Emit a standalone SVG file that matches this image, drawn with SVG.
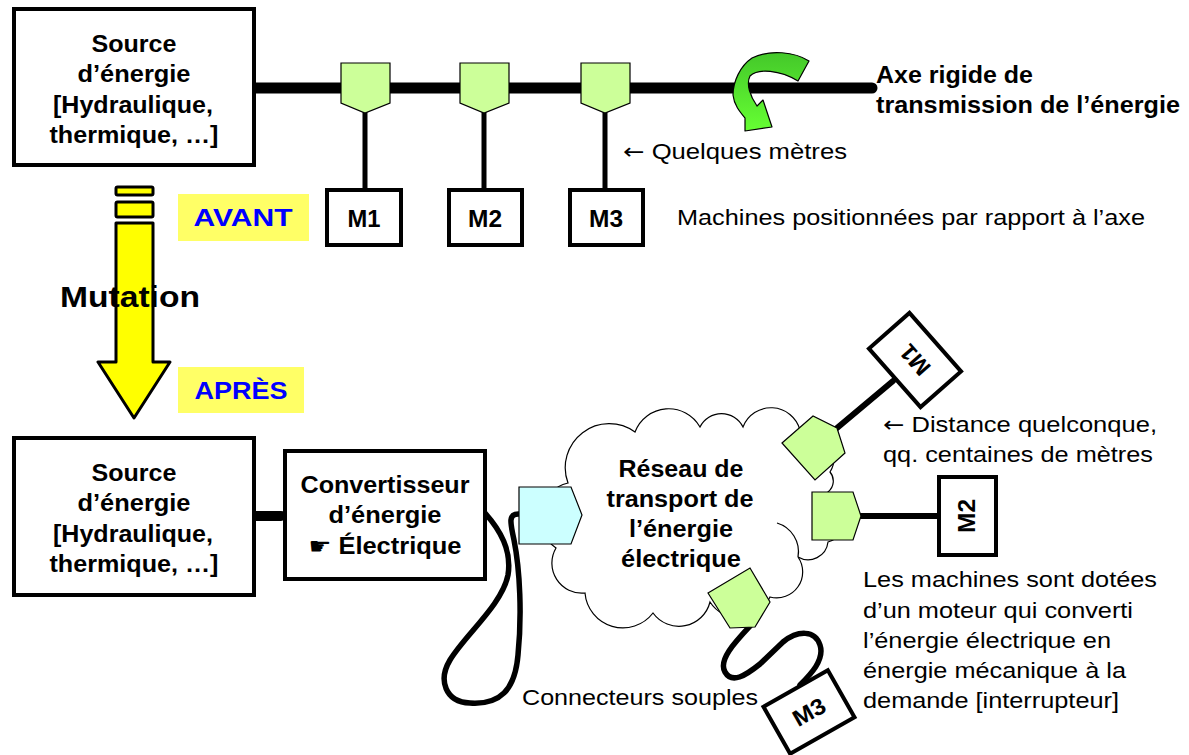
<svg xmlns="http://www.w3.org/2000/svg" width="1189" height="755" viewBox="0 0 1189 755">
<defs>
<linearGradient id="gArrow" x1="0" y1="0" x2="0" y2="1">
<stop offset="0" stop-color="#44c82a"/>
<stop offset="1" stop-color="#66ff33"/>
</linearGradient>
<style>
text{font-family:"Liberation Sans",Arial,"DejaVu Sans",sans-serif;fill:#000}
.b{font-weight:bold;font-size:23px}
.n{font-size:22px}
.c{text-anchor:middle}
.ar{font-family:"DejaVu Sans",sans-serif}
.box{fill:#fff;stroke:#000;stroke-width:4}
.pg{fill:#ccff99;stroke:#000;stroke-width:1.2}
.wire{fill:none;stroke:#000;stroke-linecap:round;stroke-linejoin:round}
.lab{fill:#ffff66}
.blue{font-weight:bold;font-size:24px;fill:#0000ff;text-anchor:middle}
</style>
</defs>
<rect width="1189" height="755" fill="#fff"/>

<g id="connectors">
<line class="wire" x1="250" y1="88" x2="872" y2="88" stroke-width="11"/>
<line class="wire" x1="365" y1="113" x2="365" y2="190" stroke-width="5"/>
<line class="wire" x1="484" y1="113" x2="484" y2="190" stroke-width="5"/>
<line class="wire" x1="605" y1="113" x2="605" y2="190" stroke-width="5"/>
<line class="wire" x1="254" y1="516" x2="281" y2="516" stroke-width="10"/>
<path class="wire" stroke-width="5.5" d="M485,513 C500,530 512,550 508,575 C502,605 465,635 450,660 C438,680 445,702 470,703 C500,705 515,690 518,655 C522,615 520,570 514,540 C510,522 508,513 520,514"/>
<line class="wire" x1="837" y1="428" x2="893" y2="381" stroke-width="6"/>
<line class="wire" x1="858" y1="516" x2="940" y2="516" stroke-width="6"/>
<path class="wire" stroke-width="5.5" d="M750,626 C735,642 718,660 725,672 C732,684 745,676 760,664 L783,642 C798,630 815,630 820,645 C825,660 810,675 800,685"/>
</g>

<g id="rotation-arrow">
<path d="M809,61 C795,52 770,49 752,58 C740,66 733,82 733,95 C734,105 740,112 745,118 L745,131 L772,127 L763,100 L757,106 C750,96 746,84 750,76 C758,68 780,70 798,81 Z" fill="url(#gArrow)" stroke="#000" stroke-width="1.2" stroke-linejoin="round"/>
</g>

<g id="source-top">
<rect class="box" x="14" y="9" width="240" height="156"/>
<text class="b c" x="134" y="52" textLength="85" lengthAdjust="spacingAndGlyphs">Source</text>
<text class="b c" x="134" y="82" textLength="113" lengthAdjust="spacingAndGlyphs">d’énergie</text>
<text class="b c" x="133" y="113" textLength="160" lengthAdjust="spacingAndGlyphs">[Hydraulique,</text>
<text class="b c" x="134" y="143" textLength="169" lengthAdjust="spacingAndGlyphs">thermique, …]</text>
</g>

<g id="coupling-1"><polygon class="pg" points="341,63 390,63 390,103 365,113 341,103"/></g>
<g id="coupling-2"><polygon class="pg" points="460,63 509,63 509,103 484,113 460,103"/></g>
<g id="coupling-3"><polygon class="pg" points="581,63 630,63 630,103 605,113 581,103"/></g>

<g id="m1-top">
<rect class="box" x="327" y="190" width="74" height="55"/>
<text class="b c" x="364" y="227" textLength="33" lengthAdjust="spacingAndGlyphs">M1</text>
</g>
<g id="m2-top">
<rect class="box" x="449" y="190" width="73" height="55"/>
<text class="b c" x="485" y="227" textLength="34" lengthAdjust="spacingAndGlyphs">M2</text>
</g>
<g id="m3-top">
<rect class="box" x="570" y="190" width="73" height="55"/>
<text class="b c" x="606" y="227" textLength="34" lengthAdjust="spacingAndGlyphs">M3</text>
</g>

<g id="axis-label">
<text class="b" x="876" y="83" textLength="157" lengthAdjust="spacingAndGlyphs">Axe rigide de</text>
<text class="b" x="876" y="113" textLength="304" lengthAdjust="spacingAndGlyphs">transmission de l’énergie</text>
</g>
<g id="notes-top">
<text class="n" x="623" y="159" textLength="224" lengthAdjust="spacingAndGlyphs"><tspan class="ar">←</tspan> Quelques mètres</text>
<text class="n" x="677" y="225" textLength="468" lengthAdjust="spacingAndGlyphs">Machines positionnées par rapport à l’axe</text>
</g>

<g id="mutation-arrow">
<rect x="116" y="187" width="37" height="8" rx="1.5" fill="#ffff00" stroke="#000" stroke-width="3"/>
<rect x="116" y="202" width="37" height="15" rx="1.5" fill="#ffff00" stroke="#000" stroke-width="3"/>
<polygon points="116,223 153,223 153,362 170,362 134,418 98,362 116,362" fill="#ffff00" stroke="#000" stroke-width="3" stroke-linejoin="round"/>
<text x="60" y="307" font-size="29" font-weight="bold" textLength="140" lengthAdjust="spacingAndGlyphs">Mutation</text>
</g>

<g id="avant">
<rect class="lab" x="178" y="194" width="131" height="47"/>
<text class="blue" x="243" y="226" textLength="99" lengthAdjust="spacingAndGlyphs">AVANT</text>
</g>
<g id="apres">
<rect class="lab" x="178" y="367" width="126" height="46"/>
<text class="blue" x="241" y="399" textLength="93" lengthAdjust="spacingAndGlyphs">APRÈS</text>
</g>

<g id="source-bottom">
<rect class="box" x="14" y="438" width="240" height="157"/>
<text class="b c" x="134" y="481" textLength="85" lengthAdjust="spacingAndGlyphs">Source</text>
<text class="b c" x="134" y="511" textLength="113" lengthAdjust="spacingAndGlyphs">d’énergie</text>
<text class="b c" x="133" y="542" textLength="160" lengthAdjust="spacingAndGlyphs">[Hydraulique,</text>
<text class="b c" x="134" y="572" textLength="169" lengthAdjust="spacingAndGlyphs">thermique, …]</text>
</g>

<g id="convertisseur">
<rect class="box" x="285" y="451" width="200" height="128"/>
<text class="b c" x="385" y="493" textLength="169" lengthAdjust="spacingAndGlyphs">Convertisseur</text>
<text class="b c" x="385" y="523" textLength="113" lengthAdjust="spacingAndGlyphs">d’énergie</text>
<text class="b c" x="385" y="554" textLength="153" lengthAdjust="spacingAndGlyphs">☛ Électrique</text>
</g>

<g id="reseau">
<path d="M568,483 A44,44 0 0 1 635,432 A36,36 0 0 1 700,427 A24,24 0 0 1 743,427 A30,30 0 0 1 800,430 A28,28 0 0 1 830,472 A14,14 0 0 1 828,492 A26,26 0 0 1 828,542 A20,20 0 0 1 798,557 A26,26 0 0 1 770,597 A34,34 0 0 1 710,602 A32,32 0 0 1 653,613 A38,38 0 0 1 585,593 A30,30 0 0 1 556,548 A36,36 0 0 1 568,483 Z" fill="#fff" stroke="#000" stroke-width="1.2"/>
<path d="M777,523 A30,30 0 0 1 798,557" fill="none" stroke="#000" stroke-width="1.2"/>
<text class="b c" x="681" y="477" textLength="125" lengthAdjust="spacingAndGlyphs">Réseau de</text>
<text class="b c" x="680" y="507" textLength="147" lengthAdjust="spacingAndGlyphs">transport de</text>
<text class="b c" x="681" y="537" textLength="104" lengthAdjust="spacingAndGlyphs">l’énergie</text>
<text class="b c" x="681" y="567" textLength="120" lengthAdjust="spacingAndGlyphs">électrique</text>
</g>

<g id="plug-converter"><polygon points="519,487 571,487 582,515 571,544 519,544" fill="#ccffff" stroke="#000" stroke-width="1.2"/></g>
<g id="plug-m1"><polygon class="pg" points="782,443 813,416 837,428 845,453 815,480"/></g>
<g id="plug-m2"><polygon class="pg" points="812,492 853,492 861,516 853,540 812,540"/></g>
<g id="plug-m3"><polygon class="pg" points="708,593 750,568 770,602 755,627 730,628"/></g>

<g id="m1-bottom" transform="translate(915,360) rotate(-131.4)">
<rect class="box" x="-39" y="-27" width="78" height="54"/>
<text class="b c" x="0" y="8" textLength="33" lengthAdjust="spacingAndGlyphs">M1</text>
</g>
<g id="m2-bottom">
<rect class="box" x="939" y="477" width="57" height="78"/>
<text class="b c" transform="translate(975,516) rotate(-90)" x="0" y="0" textLength="34" lengthAdjust="spacingAndGlyphs">M2</text>
</g>
<g id="m3-bottom" transform="translate(809,712) rotate(-29.6)">
<rect class="box" x="-37" y="-27" width="74" height="54"/>
<text class="b c" x="0" y="8" textLength="34" lengthAdjust="spacingAndGlyphs">M3</text>
</g>

<g id="notes-bottom">
<text class="n" x="883" y="432" textLength="274" lengthAdjust="spacingAndGlyphs"><tspan class="ar">←</tspan> Distance quelconque,</text>
<text class="n" x="883" y="462" textLength="270" lengthAdjust="spacingAndGlyphs">qq. centaines de mètres</text>
<text class="n" x="863" y="587" textLength="294" lengthAdjust="spacingAndGlyphs">Les machines sont dotées</text>
<text class="n" x="863" y="618" textLength="270" lengthAdjust="spacingAndGlyphs">d’un moteur qui converti</text>
<text class="n" x="863" y="648" textLength="248" lengthAdjust="spacingAndGlyphs">l’énergie électrique en</text>
<text class="n" x="863" y="678" textLength="263" lengthAdjust="spacingAndGlyphs">énergie mécanique à la</text>
<text class="n" x="863" y="708" textLength="256" lengthAdjust="spacingAndGlyphs">demande [interrupteur]</text>
<text class="n" x="522" y="705" textLength="236" lengthAdjust="spacingAndGlyphs">Connecteurs souples</text>
</g>
</svg>
